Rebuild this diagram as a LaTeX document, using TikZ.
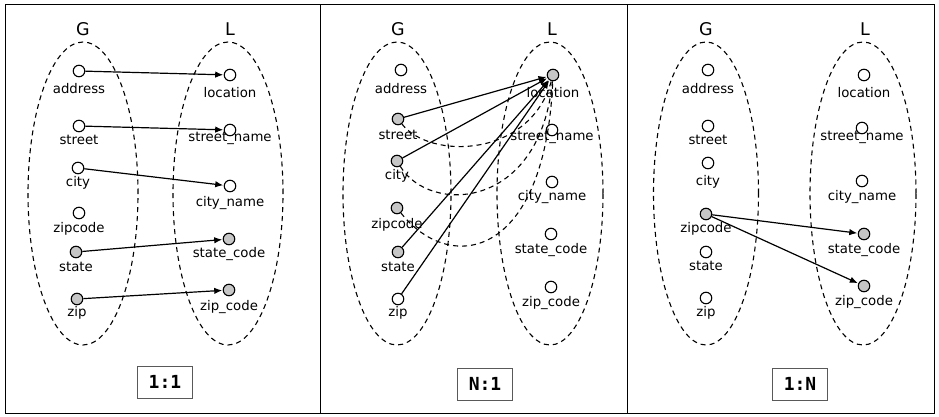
\documentclass[tikz,border=0pt]{standalone}
\usepackage{fontspec}
\setmainfont{DejaVu Sans}
\newfontfamily\tagfont{DejaVu Sans Mono}
\usetikzlibrary{arrows.meta}
\tikzset{
  fld/.style={circle,draw,line width=1.1pt,minimum size=11.5pt,inner sep=0pt,fill=white},
  on/.style={fld,fill=gray!45},
  lab/.style={font=\fontsize{13.3}{15}\selectfont,inner sep=0pt},
  hdr/.style={font=\fontsize{17.5}{20}\selectfont,inner sep=0pt},
  setline/.style={dashed,line width=1.1pt,dash pattern=on 5pt off 4pt},
  arr/.style={-{Latex[length=8pt,width=6.5pt]},line width=1.2pt,shorten >=0.5pt},
  panel/.style={draw,line width=0.9pt},
  tagbox/.style={draw=black!65,line width=1pt,minimum width=55pt,minimum height=32pt,
    font=\tagfont\bfseries\fontsize{18}{20}\selectfont,inner sep=0pt}
}
\newcommand\F[6]{\node[#4] (#1) at (#2,#3) {}; \node[lab] (#1t) at (#2,#6) {#5};}
\begin{document}
\begin{tikzpicture}[x=1pt,y=-1pt]
\useasboundingbox (0,0) rectangle (939,417);
\fill[white] (0,0) rectangle (939,417);
% panels
\draw[panel] (5,4) rectangle (320,413);
\draw[panel] (320,4) rectangle (627,413);
\draw[panel] (627,4) rectangle (934,413);

% ---------- panel 1 ----------
\draw[setline] (83,193.5) ellipse [x radius=55pt, y radius=151.5pt];
\draw[setline] (228,193.5) ellipse [x radius=55pt, y radius=151.5pt];
\node[hdr] (g1) at (83,29) {G};
\node[hdr] (l1) at (230,29) {L};
\F{a1}{79}{71}{fld}{address}{89}
\F{s1}{79}{126}{fld}{street}{140}
\F{c1}{78}{168}{fld}{city}{183}
\F{z1}{79}{213}{fld}{zipcode}{229}
\F{st1}{76}{252}{on}{state}{267}
\F{zp1}{77}{299}{on}{zip}{313}
\F{lo1}{230}{75}{fld}{location}{93}
\F{sn1}{230}{130}{fld}{street\_name}{138}
\F{cn1}{230}{186}{fld}{city\_name}{203}
\F{sc1}{229}{239}{on}{state\_code}{254}
\F{zc1}{229}{290}{on}{zip\_code}{307}
\draw[arr] (a1) -- (lo1);
\draw[arr] (s1) -- (sn1);
\draw[arr] (c1) -- (cn1);
\draw[arr] (st1) -- (sc1);
\draw[arr] (zp1) -- (zc1);
\node[tagbox] (t1) at (165,382) {1:1};

% ---------- panel 2 ----------
\draw[setline] (397,193.5) ellipse [x radius=54pt, y radius=151.5pt];
\draw[setline] (550,193.5) ellipse [x radius=53pt, y radius=151.5pt];
\node[hdr] (g2) at (398,29) {G};
\node[hdr] (l2) at (552,29) {L};
\F{a2}{401}{70}{fld}{address}{89}
\F{s2}{398}{119}{on}{street}{135}
\F{c2}{397}{161}{on}{city}{176}
\F{z2}{397}{208}{on}{zipcode}{225}
\F{st2}{398}{252}{on}{state}{267}
\F{zp2}{398}{299}{fld}{zip}{313}
\F{lo2}{553}{75}{on}{location}{93}
\F{sn2}{552}{130}{fld}{street\_name}{137}
\F{cn2}{552}{182}{fld}{city\_name}{197}
\F{sc2}{551}{234}{fld}{state\_code}{250}
\F{zc2}{551}{287}{fld}{zip\_code}{303}
\draw[setline] (s2) .. controls (430,160) and (530,158) .. (lo2);
\draw[setline] (c2) .. controls (430,215) and (540,210) .. (lo2);
\draw[setline] (z2) .. controls (450,275) and (545,260) .. (lo2);
\draw[arr] (s2) -- (lo2);
\draw[arr] (c2) -- (lo2);
\draw[arr] (st2) -- (lo2);
\draw[arr] (zp2) -- (lo2);
\node[tagbox] (t2) at (485,384) {N:1};

% ---------- panel 3 ----------
\draw[setline] (706,193.5) ellipse [x radius=52.5pt, y radius=151.5pt];
\draw[setline] (863,193.5) ellipse [x radius=53pt, y radius=151.5pt];
\node[hdr] (g3) at (706,29) {G};
\node[hdr] (l3) at (865,29) {L};
\F{a3}{708}{70}{fld}{address}{89}
\F{s3}{708}{126}{fld}{street}{140}
\F{c3}{708}{163}{fld}{city}{182}
\F{z3}{706}{214}{on}{zipcode}{229}
\F{st3}{706}{252}{fld}{state}{266}
\F{zp3}{706}{298}{fld}{zip}{313}
\F{lo3}{864}{75}{fld}{location}{93}
\F{sn3}{862}{128}{fld}{street\_name}{137}
\F{cn3}{862}{181}{fld}{city\_name}{197}
\F{sc3}{864}{234}{on}{state\_code}{250}
\F{zc3}{864}{286}{on}{zip\_code}{302}
\draw[arr] (z3) -- (sc3);
\draw[arr] (z3) -- (zc3);
\node[tagbox] (t3) at (800,384) {1:N};
\end{tikzpicture}
\end{document}
